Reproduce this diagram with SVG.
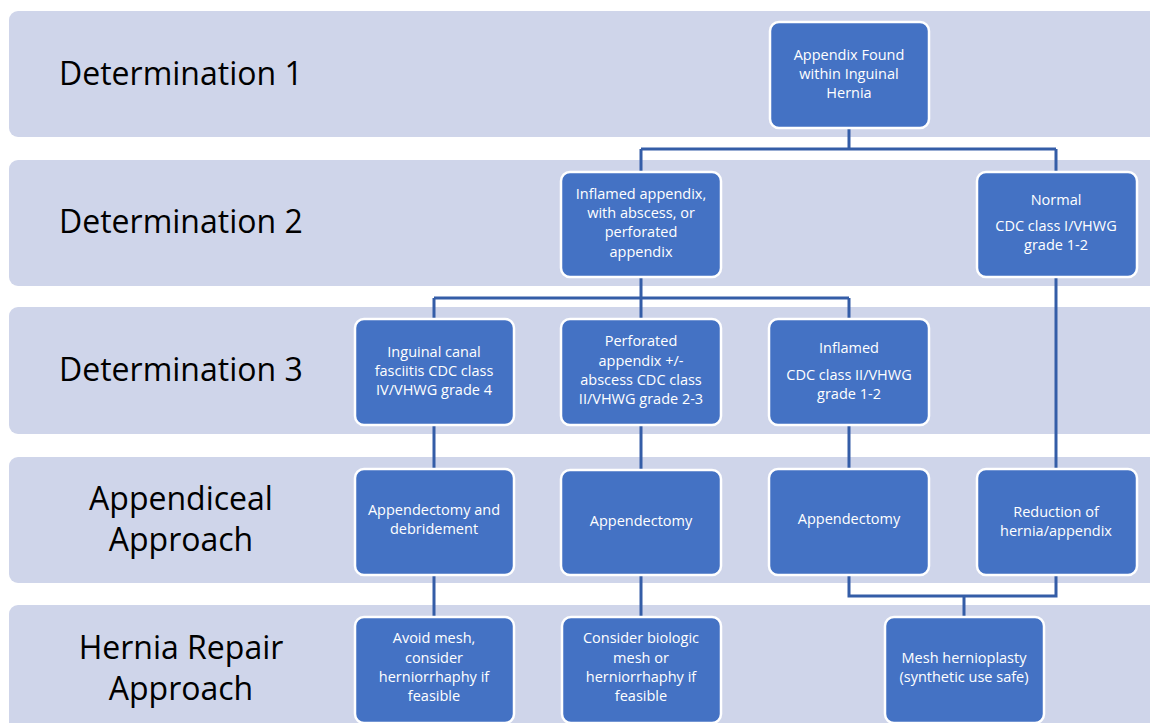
<svg xmlns="http://www.w3.org/2000/svg" width="1150" height="723" viewBox="0 0 1150 723">
<style>
.band{fill:#CFD5EA}
.lab{font-family:"Open Sans","Liberation Sans",sans-serif;font-size:32px;fill:#000;text-anchor:middle}
.lab1{font-family:"Open Sans","Liberation Sans",sans-serif;font-size:32px;fill:#000}
.box{fill:#4472C4;stroke:#FFFFFF;stroke-width:2.5}
.t{font-family:"Open Sans","Liberation Sans",sans-serif;font-size:14.5px;fill:#FFFFFF;text-anchor:middle}
.c{fill:none;stroke:#345DA7;stroke-width:3}
</style>
<rect width="1150" height="723" fill="#FFFFFF"/>
<g id="bands">
<rect class="band" x="9" y="11" width="1160" height="126" rx="9"/>
<rect class="band" x="9" y="160" width="1160" height="126" rx="9"/>
<rect class="band" x="9" y="307" width="1160" height="127" rx="9"/>
<rect class="band" x="9" y="457" width="1160" height="126" rx="9"/>
<rect class="band" x="9" y="605" width="1160" height="130" rx="9"/>
<text class="lab1" x="59" y="85">Determination 1</text>
<text class="lab1" x="59" y="233">Determination 2</text>
<text class="lab1" x="59" y="381">Determination 3</text>
<text class="lab" x="181" y="510">Appendiceal</text>
<text class="lab" x="181" y="551">Approach</text>
<text class="lab" x="181" y="659">Hernia Repair</text>
<text class="lab" x="181" y="700">Approach</text>
</g>
<g id="connectors">
<path class="c" d="M849 127 V149 M641 149 H1056 M641 149 V172 M1056 149 V172"/>
<path class="c" d="M641 277 V298 M434 298 H849 M434 298 V319 M641 298 V319 M849 298 V319"/>
<path class="c" d="M1056 277 V469"/>
<path class="c" d="M434 425 V469 M641 425 V469 M849 425 V469"/>
<path class="c" d="M434 575 V617 M641 575 V617"/>
<path class="c" d="M849 575 V596 H1056 V575 M964 596 V617"/>
</g>
<g id="n-root">
<rect class="box" x="770" y="22" width="159" height="106" rx="9"/>
<text class="t" x="849" y="60">Appendix Found</text>
<text class="t" x="849" y="79">within Inguinal</text>
<text class="t" x="849" y="98">Hernia</text>
</g>
<g id="n-inflamed-abscess">
<rect class="box" x="561" y="172" width="160" height="105" rx="9"/>
<text class="t" x="641" y="199">Inflamed appendix,</text>
<text class="t" x="641" y="218">with abscess, or</text>
<text class="t" x="641" y="237">perforated</text>
<text class="t" x="641" y="257">appendix</text>
</g>
<g id="n-normal">
<rect class="box" x="977" y="172" width="160" height="105" rx="9"/>
<text class="t" x="1056" y="205">Normal</text>
<text class="t" x="1056" y="231">CDC class I/VHWG</text>
<text class="t" x="1056" y="250">grade 1-2</text>
</g>
<g id="n-fasciitis">
<rect class="box" x="355" y="319" width="159" height="106" rx="9"/>
<text class="t" x="434" y="357">Inguinal canal</text>
<text class="t" x="434" y="376">fasciitis CDC class</text>
<text class="t" x="434" y="395">IV/VHWG grade 4</text>
</g>
<g id="n-perforated">
<rect class="box" x="561" y="319" width="160" height="106" rx="9"/>
<text class="t" x="641" y="346">Perforated</text>
<text class="t" x="641" y="366">appendix +/-</text>
<text class="t" x="641" y="385">abscess CDC class</text>
<text class="t" x="641" y="404">II/VHWG grade 2-3</text>
</g>
<g id="n-inflamed">
<rect class="box" x="769" y="319" width="160" height="106" rx="9"/>
<text class="t" x="849" y="353">Inflamed</text>
<text class="t" x="849" y="380">CDC class II/VHWG</text>
<text class="t" x="849" y="399">grade 1-2</text>
</g>
<g id="n-appendectomy-debridement">
<rect class="box" x="355" y="469" width="159" height="106" rx="9"/>
<text class="t" x="434" y="515">Appendectomy and</text>
<text class="t" x="434" y="534">debridement</text>
</g>
<g id="n-appendectomy-1">
<rect class="box" x="561" y="470" width="160" height="105" rx="9"/>
<text class="t" x="641" y="526">Appendectomy</text>
</g>
<g id="n-appendectomy-2">
<rect class="box" x="769" y="469" width="160" height="106" rx="9"/>
<text class="t" x="849" y="524">Appendectomy</text>
</g>
<g id="n-reduction">
<rect class="box" x="977" y="469" width="160" height="106" rx="9"/>
<text class="t" x="1056" y="517">Reduction of</text>
<text class="t" x="1056" y="536">hernia/appendix</text>
</g>
<g id="n-avoid-mesh">
<rect class="box" x="355" y="617" width="159" height="106" rx="9"/>
<text class="t" x="434" y="643">Avoid mesh,</text>
<text class="t" x="434" y="663">consider</text>
<text class="t" x="434" y="682">herniorrhaphy if</text>
<text class="t" x="434" y="701">feasible</text>
</g>
<g id="n-biologic">
<rect class="box" x="562" y="617" width="159" height="106" rx="9"/>
<text class="t" x="641" y="643">Consider biologic</text>
<text class="t" x="641" y="663">mesh or</text>
<text class="t" x="641" y="682">herniorrhaphy if</text>
<text class="t" x="641" y="701">feasible</text>
</g>
<g id="n-mesh-hernioplasty">
<rect class="box" x="885" y="617" width="159" height="106" rx="9"/>
<text class="t" x="964" y="663">Mesh hernioplasty</text>
<text class="t" x="964" y="682">(synthetic use safe)</text>
</g>
</svg>
